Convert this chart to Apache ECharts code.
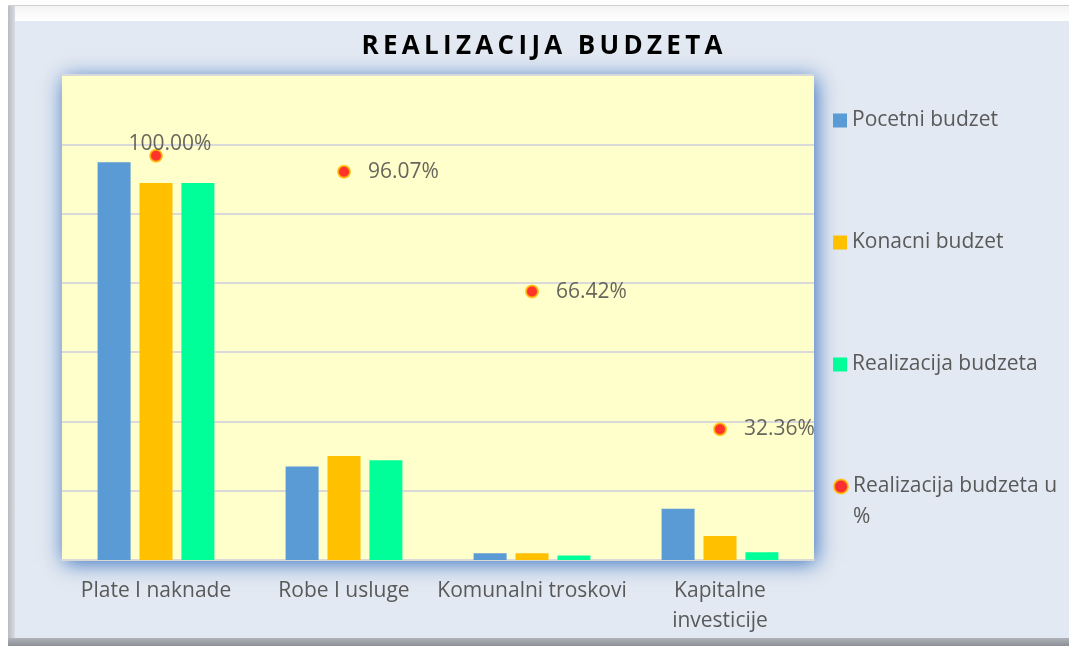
<!DOCTYPE html>
<html>
<head>
<meta charset="utf-8">
<script src="https://cdn.jsdelivr.net/npm/echarts@6/dist/echarts.min.js"></script>
<style>
  html, body { margin: 0; padding: 0; background: #ffffff; }
  #frame {
    position: absolute; left: 8px; top: 5px; width: 1061px; height: 641px;
    box-sizing: border-box;
    border-top: 1px solid #d0d0d0;
    background: linear-gradient(to right, #b8bcc2 0px, #d8dbe0 7px, transparent 8px);
  }
  #frame .band {
    position: absolute; left: 7px; top: 0; right: 0; height: 15px;
    background: linear-gradient(to bottom, #f4f4f4, #ffffff);
  }
  #frame .bottom {
    position: absolute; left: 0; right: 0; bottom: 0; height: 8px;
    background: linear-gradient(to bottom, #b0b4ba, #8c9096);
  }
  #main { position: absolute; left: 15px; top: 21px; width: 1054px; height: 617px; }
</style>
</head>
<body>
<div id="frame"><div class="band"></div><div class="bottom"></div></div>
<div id="main"></div>
<script>
  // kategorije i vrijednosti
  var categories = ['Plate I naknade', 'Robe I usluge', 'Komunalni troskovi', 'Kapitalne investicije'];
  var pocetniBudzet = [5.74, 1.35, 0.097, 0.74];
  var konacniBudzet = [5.44, 1.50, 0.097, 0.346];
  var realizacija = [5.44, 1.44, 0.064, 0.112];
  var realizacijaPosto = [100.00, 96.07, 66.42, 32.36];

  var chart = echarts.init(document.getElementById('main'));

  var font = 'Open Sans';
  // razmak izmedju slova u naslovu
  var titleText = 'REALIZACIJA BUDZETA'.split('').join('\u2009');

  var legendText = {
    fontFamily: font,
    fontSize: 21,
    color: '#595959',
    lineHeight: 31
  };

  var option = {
    backgroundColor: '#E3E9F2',
    title: {
      text: titleText,
      left: 'center',
      top: 8,
      textStyle: {
        fontFamily: font,
        fontSize: 26,
        fontWeight: 'bold',
        color: '#000000'
      }
    },
    legend: [{
      orient: 'vertical',
      left: 818,
      top: 84,
      padding: 0,
      itemWidth: 14,
      itemHeight: 14,
      itemGap: 91,
      textStyle: legendText,
      data: [
        { name: 'Pocetni budzet', icon: 'rect' },
        { name: 'Konacni budzet', icon: 'rect' },
        { name: 'Realizacija budzeta', icon: 'rect' }
      ]
    }, {
      // zadnja stavka u dva reda, ikona uz prvi red
      orient: 'vertical',
      left: 818,
      top: 419,
      padding: 0,
      itemWidth: 14,
      itemHeight: 14,
      textStyle: legendText,
      formatter: function (name) { return '\n' + name.replace(' %', '\n%'); },
      data: [
        { name: 'Realizacija budzeta u %', icon: 'circle' }
      ]
    }],
    grid: {
      left: 47,
      top: 54,
      right: 255,
      bottom: 78,
      show: true,
      backgroundColor: '#FFFFCC',
      borderWidth: 0,
      shadowColor: 'rgba(45,105,185,0.95)',
      shadowBlur: 20,
      shadowOffsetX: 2,
      shadowOffsetY: 3
    },
    xAxis: {
      type: 'category',
      data: categories,
      axisLine: { show: true, lineStyle: { color: '#D9D9D9', width: 2 } },
      axisTick: { show: false },
      axisLabel: {
        fontFamily: font,
        fontSize: 21,
        color: '#595959',
        margin: 16,
        lineHeight: 30,
        interval: 0,
        formatter: function (v) {
          return v.length > 20 ? v.replace(' ', '\n') : v;
        }
      }
    },
    yAxis: [{
      type: 'value',
      min: 0,
      max: 7,
      interval: 1,
      axisLabel: { show: false },
      axisLine: { show: false },
      axisTick: { show: false },
      splitLine: { lineStyle: { color: '#D9D9D9', width: 2 } }
    }, {
      type: 'value',
      min: 0,
      max: 120,
      interval: 20,
      axisLabel: { show: false },
      axisLine: { show: false },
      axisTick: { show: false },
      splitLine: { show: false }
    }],
    series: [{
      name: 'Pocetni budzet',
      type: 'bar',
      data: pocetniBudzet,
      barWidth: 33,
      barGap: '27%',
      itemStyle: { color: '#5B9BD5' }
    }, {
      name: 'Konacni budzet',
      type: 'bar',
      data: konacniBudzet,
      barWidth: 33,
      barGap: '27%',
      itemStyle: { color: '#FFC000' }
    }, {
      name: 'Realizacija budzeta',
      type: 'bar',
      data: realizacija,
      barWidth: 33,
      barGap: '27%',
      itemStyle: { color: '#00FF99' }
    }, {
      name: 'Realizacija budzeta u %',
      type: 'scatter',
      yAxisIndex: 1,
      symbol: 'circle',
      symbolSize: 12,
      itemStyle: { color: '#FF0000', borderColor: '#FFC000', borderWidth: 2 },
      label: {
        show: true,
        position: 'right',
        distance: 17,
        fontFamily: font,
        fontSize: 21,
        color: '#404040',
        formatter: function (p) { return p.value.toFixed(2) + '%'; }
      },
      data: realizacijaPosto.map(function (v, i) {
        if (i === 0) {
          return { value: v, label: { position: 'top', distance: 0, offset: [14, 6] } };
        }
        return v;
      }),
      z: 5
    }]
  };

  chart.setOption(option);
</script>
</body>
</html>
